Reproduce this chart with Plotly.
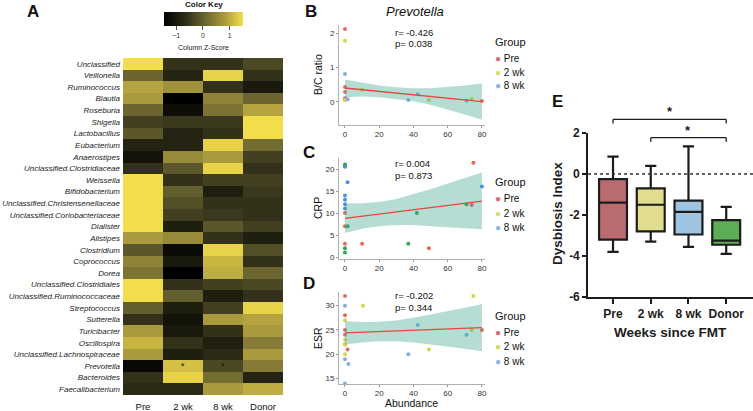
import plotly.graph_objects as go

W, H = 753, 411
def px(p):
    return p / W
def py(p):
    return 1 - p / H

FONT = "Liberation Sans, Arial, sans-serif"

# ---------------- Panel A data ----------------
groups = ["Pre", "2 wk", "8 wk", "Donor"]
genera = ["Unclassified", "Veillonella", "Ruminococcus", "Blautia", "Roseburia", "Shigella",
          "Lactobacillus", "Eubacterium", "Anaerostipes", "Unclassified.Clostridiaceae",
          "Weissella", "Bifidobacterium", "Unclassified.Christensenellaceae",
          "Unclassified.Coriobacteriaceae", "Dialister", "Alistipes", "Clostridium",
          "Coprococcus", "Dorea", "Unclassified.Clostridiales", "Unclassified.Ruminococcaceae",
          "Streptococcus", "Sutterella", "Turicibacter", "Oscillospira",
          "Unclassified.Lachnospiraceae", "Prevotella", "Bacteroides", "Faecalibacterium"]
zscores = [
    [1.5, -0.6, -0.6, -0.3],
    [0.1, -0.8, 1.4, -0.6],
    [0.9, 0.7, -0.6, -1.0],
    [0.8, -1.45, 0.5, 0.1],
    [0.1, -1.2, 0.3, 0.9],
    [-0.4, -0.5, -0.5, 1.5],
    [-0.1, -0.8, -0.6, 1.5],
    [-0.8, -0.8, 1.4, 0.2],
    [-1.1, 0.6, 0.8, -0.4],
    [-0.6, -0.1, 1.4, -0.6],
    [1.5, -0.6, -0.4, -0.4],
    [1.5, 0.0, -0.9, -0.5],
    [1.5, -0.2, -0.6, -0.6],
    [1.5, -0.4, -0.5, -0.6],
    [1.5, -0.9, -0.1, -0.4],
    [0.8, 0.6, -0.6, -0.9],
    [-0.1, -1.25, 1.4, -0.2],
    [0.5, -1.0, 1.1, -0.6],
    [0.3, -1.45, 1.0, 0.1],
    [1.5, -0.6, -0.4, -0.3],
    [1.5, 0.0, -0.9, -0.6],
    [0.0, -0.9, -0.4, 1.4],
    [-0.6, -1.1, 0.8, 0.9],
    [0.8, -1.0, -0.6, 0.8],
    [1.1, -0.6, -0.9, 0.4],
    [0.8, -0.9, -0.7, 0.8],
    [-1.3, 1.2, -0.3, 0.4],
    [-0.6, 1.4, 0.2, -0.8],
    [-0.7, -0.7, 0.8, 1.0],
]
star_cells = [("2 wk", "Prevotella"), ("8 wk", "Prevotella")]

# ---------------- Panels B-D data ----------------
group_names = ["Pre", "2 wk", "8 wk"]
legend_colors = ["#d06f6f", "#d6da68", "#8ab6e2"]

# B: B/C ratio
b_pre_x = [0, 0, 0, 0, 0, 80]
b_pre_y = [2.12, 0.43, 0.28, 0.10, 0.05, 0.02]
b_2wk_x = [0, 0, 10, 49, 74]
b_2wk_y = [1.78, 0.05, 0.35, 0.05, 0.08]
b_8wk_x = [0, 1.5, 37, 42.5, 71]
b_8wk_y = [0.81, 0.07, 0.05, 0.22, 0.03]
b_fit_x = [0, 80]
b_fit_y = [0.40, 0.00]
band_x = [0, 10, 20, 30, 40, 50, 60, 70, 80]
b_band_hi = [0.65, 0.55, 0.47, 0.42, 0.39, 0.39, 0.42, 0.47, 0.53]
b_band_lo = [0.13, 0.15, 0.13, 0.08, 0.01, -0.09, -0.22, -0.37, -0.53]
b_stats = ["r= -0.426", "p= 0.038"]

# C: CRP
c_pre_x = [75, 74, 0, 0, 0, 10, 49]
c_pre_y = [21.4, 11.8, 10, 7, 3, 3, 2]
c_2wk_x = [0, 0, 1.5, 42, 71, 37, 0, 0]
c_2wk_y = [21, 20.7, 7, 10, 12, 3, 2, 1]
c_8wk_x = [0, 1.5, 0, 0, 0, 0, 80]
c_8wk_y = [20.5, 17, 14, 13, 12, 11, 16]
c_fit_x = [0, 80]
c_fit_y = [8.8, 12.7]
c_band_hi = [12.15, 12.2, 12.5, 13.2, 14.3, 15.4, 16.7, 17.9, 19.2]
c_band_lo = [5.45, 6.4, 7.0, 7.3, 7.3, 7.0, 6.7, 6.5, 6.3]
c_stats = ["r= 0.004", "p= 0.873"]

# D: ESR
d_pre_x = [0, 0, 0, 0, 0, 1.5, 80]
d_pre_y = [32, 28, 25, 24, 22, 21, 25]
d_2wk_x = [10.5, 0, 0, 0, 0, 75, 74, 49]
d_2wk_y = [30, 27, 23, 22, 20, 32, 25, 21]
d_8wk_x = [0, 0, 2, 0, 37, 42.5, 71]
d_8wk_y = [30, 19, 18, 14, 20, 26, 24]
d_fit_x = [0, 80]
d_fit_y = [24.4, 25.5]
d_band_hi = [26.8, 26.64, 26.68, 26.96, 27.5, 28.14, 28.83, 29.56, 30.35]
d_band_lo = [22.0, 22.44, 22.68, 22.66, 22.4, 22.04, 21.63, 21.16, 20.65]
d_stats = ["r= -0.202", "p= 0.344"]

# ---------------- Panel E data ----------------
e_groups = ["Pre", "2 wk", "8 wk", "Donor"]
e_upper = [0.85, 0.40, 1.35, -1.60]
e_q3 = [-0.25, -0.70, -1.30, -2.25]
e_median = [-1.40, -1.50, -1.85, -3.25]
e_q1 = [-3.20, -2.80, -2.95, -3.45]
e_lower = [-3.80, -3.30, -3.55, -3.90]
e_colors = ["#b96c70", "#e1dd8f", "#9fc4e2", "#5cad55"]
e_ticks = [-6, -4, -2, 0, 2]
e_brackets = [("Pre", "Donor", 2.66), ("2 wk", "Donor", 1.77)]

fig = go.Figure()

# ---------------- Heatmap ----------------
colorscale = [[0.0, "#000000"], [0.25, "#2a2916"], [0.5, "#65602f"], [0.75, "#a5963c"], [1.0, "#f3dd4a"]]
fig.add_trace(go.Heatmap(
    z=zscores, x=groups, y=genera, colorscale=colorscale, zmin=-1.45, zmax=1.5,
    xaxis="x", yaxis="y", hoverinfo="skip",
    colorbar=dict(orientation="h", x=px(203.5), xanchor="center", y=py(12), yanchor="top",
                  len=79, lenmode="pixels", thickness=14, outlinewidth=0,
                  tickvals=[-1, 0, 1], ticks="outside", ticklen=4, tickcolor="#555",
                  tickfont=dict(size=7, color="#333", family=FONT), xpad=0, ypad=0),
))

# ---------------- Scatter panels ----------------
def add_scatter_panel(ax, pts, fit_x, fit_y, band_hi, band_lo, colors):
    xa, ya = "x" + ax, "y" + ax
    for (xs, ys), col, name in zip(pts, colors, group_names):
        fig.add_trace(go.Scatter(x=xs, y=ys, mode="markers", name=name, showlegend=False,
                                 marker=dict(size=4, color=col), xaxis=xa, yaxis=ya))
    fig.add_trace(go.Scatter(x=band_x + band_x[::-1], y=band_hi + band_lo[::-1], fill="toself",
                             mode="lines", line=dict(width=0), fillcolor="rgba(60,165,140,0.38)",
                             showlegend=False, hoverinfo="skip", xaxis=xa, yaxis=ya))
    fig.add_trace(go.Scatter(x=fit_x, y=fit_y, mode="lines", line=dict(color="#e8453c", width=1.3),
                             showlegend=False, xaxis=xa, yaxis=ya))

pal_a = ["#e36b66", "#d4d84a", "#7fb0ea"]
pal_c = ["#f06356", "#2ea84e", "#4f8fe6"]
add_scatter_panel("2", [(b_pre_x, b_pre_y), (b_2wk_x, b_2wk_y), (b_8wk_x, b_8wk_y)],
                  b_fit_x, b_fit_y, b_band_hi, b_band_lo, pal_a)
add_scatter_panel("3", [(c_pre_x, c_pre_y), (c_2wk_x, c_2wk_y), (c_8wk_x, c_8wk_y)],
                  c_fit_x, c_fit_y, c_band_hi, c_band_lo, pal_c)
add_scatter_panel("4", [(d_pre_x, d_pre_y), (d_2wk_x, d_2wk_y), (d_8wk_x, d_8wk_y)],
                  d_fit_x, d_fit_y, d_band_hi, d_band_lo, pal_a)

# ---------------- Box panel ----------------
for g, up, q3, med, q1, lo, col in zip(e_groups, e_upper, e_q3, e_median, e_q1, e_lower, e_colors):
    fig.add_trace(go.Box(x=[g], q1=[q1], median=[med], q3=[q3], lowerfence=[lo], upperfence=[up],
                         fillcolor=col, line=dict(color="#1c1c1c", width=2.2), width=0.74,
                         whiskerwidth=0.4, boxpoints=False, showlegend=False, name=g,
                         xaxis="x5", yaxis="y5"))

# ---------------- Axes ----------------
sc_common = dict(showline=True, linecolor="#b0b0b0", linewidth=1, ticks="outside", ticklen=2,
                 tickcolor="#999", tickfont=dict(size=8, color="#333", family=FONT),
                 showgrid=False, zeroline=False)
layout = dict(
    width=W, height=H, margin=dict(l=0, r=0, t=0, b=0, autoexpand=False),
    paper_bgcolor="white", plot_bgcolor="white",
    font=dict(family=FONT, color="#111"), showlegend=False,
    xaxis=dict(domain=[px(123), px(283)], anchor="y", ticks="", showgrid=False, zeroline=False,
               tickfont=dict(size=9.5, color="#111", family=FONT), categoryorder="array",
               categoryarray=groups, ticklabelstandoff=4),
    yaxis=dict(domain=[py(395), py(58)], anchor="x", ticks="", showgrid=False, zeroline=False,
               autorange="reversed", tickvals=genera, ticktext=["<i>%s</i>" % g for g in genera],
               tickfont=dict(size=8, color="#1a1a1a", family=FONT), ticklabelstandoff=2),
    xaxis2=dict(domain=[px(339), px(485)], anchor="y2", range=[-3.5, 81.8],
                tickvals=[0, 20, 40, 60, 80], ticklabelstandoff=-1, **sc_common),
    yaxis2=dict(domain=[py(125), py(25)], anchor="x2", range=[-0.68, 2.24], tickvals=[0, 1, 2], **sc_common),
    xaxis3=dict(domain=[px(339), px(485)], anchor="y3", range=[-3.5, 81.8],
                tickvals=[0, 20, 40, 60, 80], ticklabelstandoff=-1, **sc_common),
    yaxis3=dict(domain=[py(259), py(158)], anchor="x3", range=[-0.45, 22.5],
                tickvals=[0, 5, 10, 15, 20], **sc_common),
    xaxis4=dict(domain=[px(339), px(485)], anchor="y4", range=[-3.5, 81.8],
                tickvals=[0, 20, 40, 60, 80], ticklabelstandoff=-1, **sc_common),
    yaxis4=dict(domain=[py(384), py(292)], anchor="x4", range=[13.9, 32.8],
                tickvals=[15, 20, 25, 30], **sc_common),
    xaxis5=dict(domain=[px(588), 1.0], anchor="y5", range=[-0.663, 3.71], showline=True,
                linecolor="#1c1c1c", linewidth=1.6, ticks="outside", ticklen=5, tickwidth=1.6,
                tickcolor="#1c1c1c", showgrid=False, zeroline=False, categoryorder="array",
                categoryarray=e_groups, tickfont=dict(size=12, color="#1c1c1c", family=FONT, weight="bold")),
    yaxis5=dict(domain=[py(297), py(133)], anchor="x5", range=[-6, 2], showline=True,
                linecolor="#1c1c1c", linewidth=1.6, ticks="outside", ticklen=4, tickwidth=1.6,
                tickcolor="#1c1c1c", showgrid=False, zeroline=False, tickvals=e_ticks,
                ticktext=[str(t) for t in e_ticks],
                tickfont=dict(size=12, color="#1c1c1c", family=FONT, weight="bold")),
)
fig.update_layout(**layout)

ann = []
def text(x, y, s, size, xanchor="center", yanchor="middle", bold=False, italic=False, color="#111",
         angle=0, xref="paper", yref="paper"):
    ann.append(dict(x=x, y=y, xref=xref, yref=yref, text=s, showarrow=False, xanchor=xanchor,
                    yanchor=yanchor, textangle=angle,
                    font=dict(size=size, color=color, family=FONT,
                              weight="bold" if bold else "normal",
                              style="italic" if italic else "normal")))

# panel letters
text(px(33), py(12), "A", 17, bold=True)
text(px(311), py(12), "B", 17, bold=True)
text(px(309), py(152), "C", 17, bold=True)
text(px(309), py(283), "D", 17, bold=True)
text(px(557), py(101), "E", 17, bold=True)

# color key texts
text(px(203.5), py(5), "Color Key", 8, bold=True)
text(px(203.5), py(48), "Column Z-Score", 7, color="#222")
for gx, gy in star_cells:
    text(gx, gy, "*", 9, xref="x", yref="y", color="#111")

# B-D texts
text(px(415), py(12), "Prevotella", 13, italic=True)
for stats, y0 in [(b_stats, 32), (c_stats, 163), (d_stats, 295)]:
    text(px(393), py(y0), stats[0], 9.5, xanchor="left")
    text(px(393), py(y0 + 12), stats[1], 9.5, xanchor="left")
for lab, yc in [("B/C ratio", 75), ("CRP", 208), ("ESR", 338)]:
    text(px(318), py(yc), lab, 10.5, angle=-90, color="#111")
text(px(412), py(411), "Abundance", 10.5, yanchor="bottom")
for gy, iy in [(42, [58, 72, 86]), (182, [199, 213, 227]), (316, [332, 346, 361])]:
    text(px(493), py(gy), "Group", 11, xanchor="left")
    for name, col, yy in zip(group_names, legend_colors, iy):
        text(px(493), py(yy), "<span style='color:%s'>●</span> %s" % (col, name), 10, xanchor="left")

# E texts
text(px(557), py(214), "Dysbiosis Index", 13.5, bold=True, angle=-90, color="#1c1c1c")
text(px(670), py(332), "Weeks since FMT", 13.5, bold=True, color="#1c1c1c")

def e_paper(v):
    d0, d1 = py(297), py(133)
    return d0 + (v + 6) / 8 * (d1 - d0)

shapes = [dict(type="line", xref="x5 domain", yref="y5", x0=0, x1=1, y0=0, y1=0,
               line=dict(color="#333", width=1.5, dash="dot"))]
tick_h = 4 / H
for a, b, yv in e_brackets:
    yp = e_paper(yv)
    shapes.append(dict(type="line", xref="x5", yref="paper", x0=a, x1=b, y0=yp, y1=yp,
                       line=dict(color="#1c1c1c", width=1.3)))
    for xc in (a, b):
        shapes.append(dict(type="line", xref="x5", yref="paper", x0=xc, x1=xc, y0=yp, y1=yp - tick_h,
                           line=dict(color="#1c1c1c", width=1.3)))
    ann.append(dict(x=(e_groups.index(a) + e_groups.index(b)) / 2, y=yp, xref="x5", yref="paper",
                    text="*", showarrow=False, yanchor="bottom", yshift=-2,
                    font=dict(size=13, color="#1c1c1c", family=FONT, weight="bold")))

fig.update_layout(annotations=ann, shapes=shapes)
fig.write_html("out.html", config={"displayModeBar": False},
               post_script="document.body.style.margin='0px';")
